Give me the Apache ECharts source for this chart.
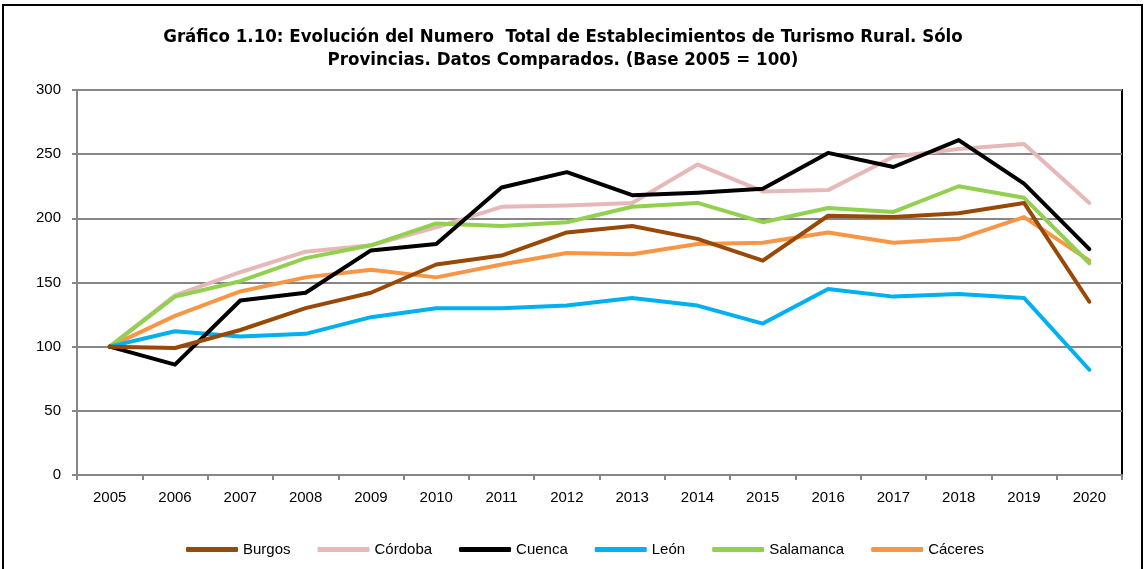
<!DOCTYPE html>
<html>
<head>
<meta charset="utf-8">
<script src="https://cdn.jsdelivr.net/npm/echarts@6/dist/echarts.min.js"></script>
<style>
  html, body { margin: 0; padding: 0; background: #fff; }
  #chart { width: 1146px; height: 569px; }
</style>
</head>
<body>
<div id="chart"></div>
<script>
// años
var years = ['2005', '2006', '2007', '2008', '2009', '2010', '2011', '2012',
             '2013', '2014', '2015', '2016', '2017', '2018', '2019', '2020'];

// valores base 2005 = 100
var burgos    = [100, 99, 113, 130, 142, 164, 171, 189, 194, 184, 167, 202, 201, 204, 212, 135];
var cordoba   = [100, 140, 158, 174, 179, 193, 209, 210, 212, 242, 221, 222, 248, 254, 258, 212];
var cuenca    = [100, 86, 136, 142, 175, 180, 224, 236, 218, 220, 223, 251, 240, 261, 227, 176];
var leon      = [100, 112, 108, 110, 123, 130, 130, 132, 138, 132, 118, 145, 139, 141, 138, 82];
var salamanca = [100, 139, 151, 169, 179, 196, 194, 197, 209, 212, 197, 208, 205, 225, 216, 165];
var caceres   = [100, 124, 143, 154, 160, 154, 164, 173, 172, 180, 181, 189, 181, 184, 201, 167];

var yTicks = [0, 50, 100, 150, 200, 250, 300];

var names  = ['Burgos', 'Córdoba', 'Cuenca', 'León', 'Salamanca', 'Cáceres'];
var values = [burgos, cordoba, cuenca, leon, salamanca, caceres];
var colors = ['#984807', '#E6B9B8', '#000000', '#00B0F0', '#92D050', '#F79646'];

var labelFont = '"Liberation Sans", Arial, sans-serif';

var series = names.map(function (n, i) {
    return {
        name: n,
        type: 'line',
        data: values[i],
        symbol: 'none',
        lineStyle: { width: 4, color: colors[i], cap: 'round', join: 'round' },
        itemStyle: { color: colors[i] },
        z: 10 - i
    };
});
// Córdoba queda debajo, Cuenca encima
series[1].z = 2;
series[2].z = 9;

var myChart = echarts.init(document.getElementById('chart'));
myChart.setOption({
    animation: false,
    color: colors,
    title: {
        text: 'Gráfico 1.10: Evolución del Numero  Total de Establecimientos de Turismo Rural. Sólo\nProvincias. Datos Comparados. (Base 2005 = 100)',
        left: 558,
        top: 21,
        textAlign: 'center',
        textStyle: {
            fontFamily: '"DejaVu Sans Condensed", "DejaVu Sans"',
            fontWeight: 'bold',
            fontSize: 18.5,
            lineHeight: 23,
            color: '#000'
        }
    },
    graphic: [{
        type: 'rect',
        shape: { x: 3, y: 5, width: 1139, height: 600 },
        style: { fill: 'none', stroke: '#000', lineWidth: 2 },
        silent: true
    }],
    legend: {
        bottom: 7,
        left: 181,
        icon: 'roundRect',
        itemWidth: 52,
        itemHeight: 5,
        itemGap: 27,
        textStyle: { fontFamily: labelFont, fontSize: 15, color: '#000' },
        data: names
    },
    grid: {
        left: 77,
        right: 24,
        top: 90,
        bottom: 94,
        show: true,
        borderColor: '#000',
        borderWidth: 2
    },
    xAxis: {
        type: 'category',
        data: years,
        boundaryGap: true,
        axisLine: { lineStyle: { color: '#868686', width: 2 } },
        axisTick: { show: true, length: 5, lineStyle: { color: '#868686', width: 2 } },
        axisLabel: { fontFamily: labelFont, fontSize: 15, color: '#000', margin: 15 }
    },
    yAxis: {
        type: 'value',
        min: 0,
        max: 300,
        interval: 50,
        axisLine: { show: true, lineStyle: { color: '#868686', width: 2 } },
        axisTick: { show: true, length: 5, lineStyle: { color: '#868686', width: 2 } },
        axisLabel: {
            fontFamily: labelFont, fontSize: 15, color: '#000', margin: 16,
            formatter: function (v) { return yTicks.indexOf(v) >= 0 ? String(v) : ''; }
        },
        splitLine: { lineStyle: { color: '#868686', width: 2 } }
    },
    series: series
});
</script>
</body>
</html>
